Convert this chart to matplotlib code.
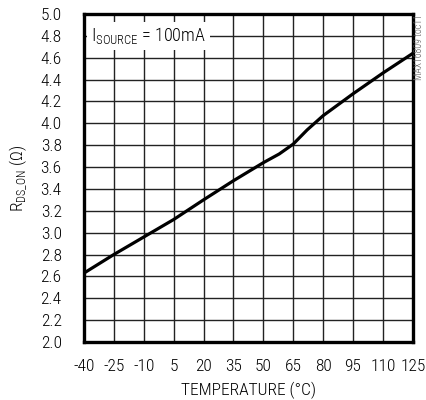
import matplotlib
matplotlib.use('Agg')
import matplotlib.pyplot as plt


plt.rcParams['font.family'] = ['Roboto Condensed', 'Archivo Narrow', 'DejaVu Sans']
plt.rcParams['font.weight'] = 'light'
plt.rcParams['axes.labelweight'] = 'light'
plt.rcParams['mathtext.fontset'] = 'custom'
plt.rcParams['mathtext.rm'] = 'Roboto Condensed:light'
plt.rcParams['axes.unicode_minus'] = False

temp = [-40, -25, -10, 5, 20, 35, 50, 58, 65, 72, 80, 95, 110, 125]
rds_on = [2.63, 2.80, 2.96, 3.12, 3.30, 3.475, 3.64, 3.72, 3.81, 3.94, 4.07, 4.27, 4.46, 4.64]

x_ticks = [-40, -25, -10, 5, 20, 35, 50, 65, 80, 95, 110, 125]
y_ticks = [2.0 + 0.2 * i for i in range(16)]


fig = plt.figure(figsize=(4.26, 4.0), dpi=100)
ax = fig.add_axes([0.197, 0.145, 0.772, 0.82])

ax.plot(temp, rds_on, color='black', linewidth=2.3, zorder=3)

ax.set_xlim(-40, 125)
ax.set_ylim(2.0, 5.0)
ax.set_xticks(x_ticks)
ax.set_yticks(y_ticks)
ax.set_yticklabels([f'{v:.1f}' for v in y_ticks])
ax.tick_params(length=0, labelsize=12.5, pad=12)
ax.tick_params(axis='y', pad=16)
ax.grid(True, color='#222222', linewidth=1.0)
for s in ax.spines.values():
    s.set_linewidth(2.4)

ax.set_xlabel('TEMPERATURE (°C)', fontsize=12.5, labelpad=6)
ax.set_ylabel(r'R$_{\mathregular{DS\_ON}}$ (Ω)', fontsize=12.5, labelpad=8)

ax.text(-36.3, 4.8, r'I$_{\mathregular{SOURCE}}$ = 100mA', fontsize=13, va='center', ha='left',
        bbox=dict(facecolor='white', edgecolor='none', pad=3), zorder=4)

fig.text(0.983, 0.965, 'MAX16809 toc11', rotation=90, fontsize=7, color='#555555',
         ha='center', va='top')

fig.savefig('out.png', dpi=100)
